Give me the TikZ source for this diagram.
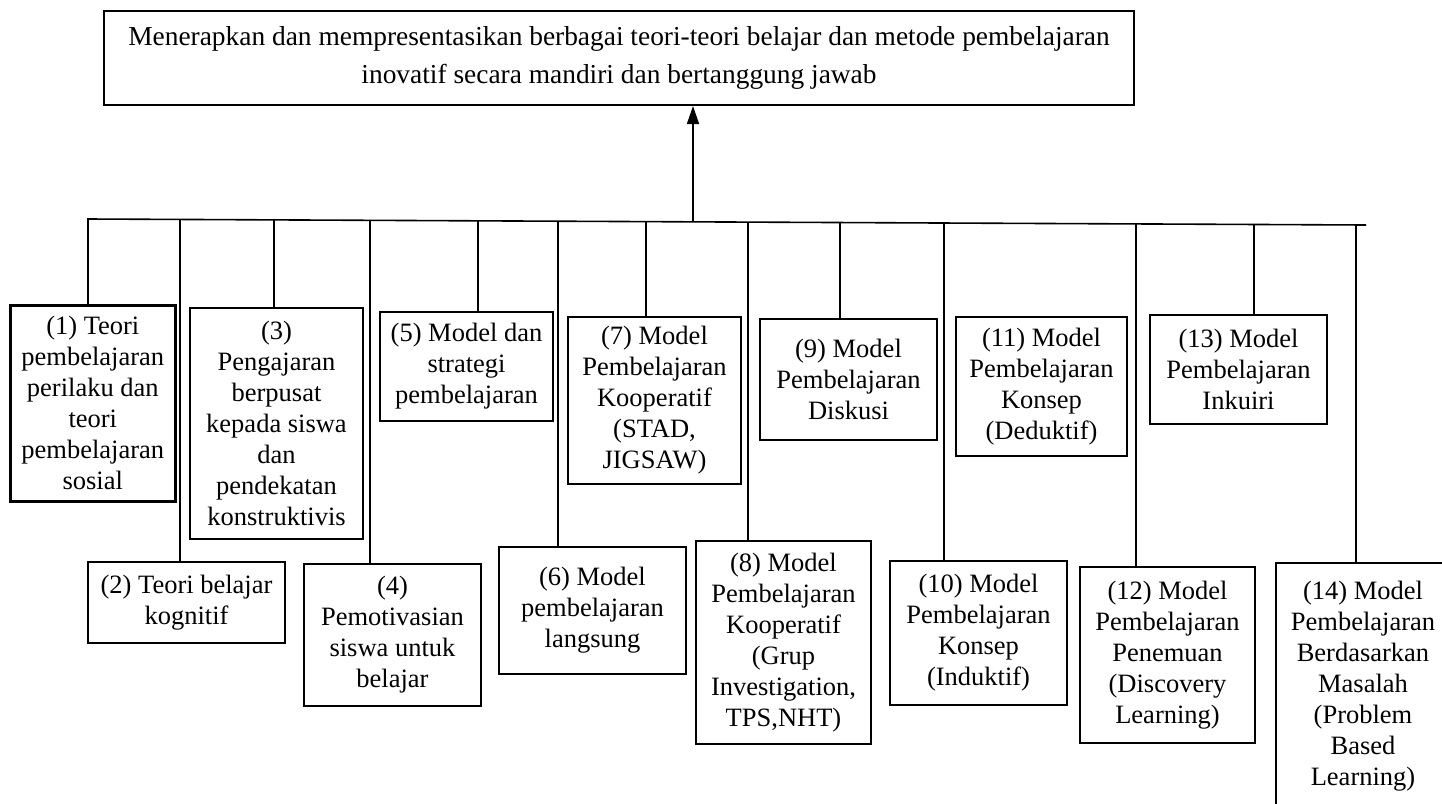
\documentclass[tikz,border=0pt]{standalone}
\usepackage{fontspec}
\setmainfont{Liberation Serif}
\usetikzlibrary{arrows.meta}
\usetikzlibrary{calc}
\tikzset{
 kotak/.style={draw, black, line width=2pt, align=center, inner sep=0pt, anchor=north west, font=\fontsize{26.5}{31}\selectfont},
 garis/.style={black, line width=1.6pt}
}

\begin{document}
\begin{tikzpicture}[x=1pt,y=-1pt]
\useasboundingbox (0,0) rectangle (1442,803);
\clip (0,0) rectangle (1442,803);
% tujuan utama
\node[kotak, minimum width=1030pt, minimum height=94pt, font=\fontsize{27.4}{38}\selectfont] (tujuan) at (103,10)
 {Menerapkan dan mempresentasikan berbagai teori-teori belajar dan metode pembelajaran\\inovatif secara mandiri dan bertanggung jawab};
% materi
\node[kotak, minimum width=165pt, minimum height=196pt, line width=2.6pt] (k1) at (9,304) {(1) Teori\\pembelajaran\\perilaku dan\\teori\\pembelajaran\\sosial};
\node[kotak, minimum width=197pt, minimum height=81pt] (k2) at (87,561) {(2) Teori belajar\\kognitif};
\node[kotak, minimum width=173pt, minimum height=231pt] (k3) at (189,307) {(3)\\Pengajaran\\berpusat\\kepada siswa\\dan\\pendekatan\\konstruktivis};
\node[kotak, minimum width=177pt, minimum height=142pt] (k4) at (303,563) {(4)\\Pemotivasian\\siswa untuk\\belajar};
\node[kotak, minimum width=173pt, minimum height=109pt] (k5) at (379,311) {(5) Model dan\\strategi\\pembelajaran};
\node[kotak, minimum width=187pt, minimum height=127pt] (k6) at (498,546) {(6) Model\\pembelajaran\\langsung};
\node[kotak, minimum width=173pt, minimum height=167pt] (k7) at (567,316) {(7) Model\\Pembelajaran\\Kooperatif\\(STAD,\\JIGSAW)};
\node[kotak, minimum width=175pt, minimum height=203pt] (k8) at (695,540) {(8) Model\\Pembelajaran\\Kooperatif\\(Grup\\Investigation,\\TPS,NHT)};
\node[kotak, minimum width=177pt, minimum height=121pt] (k9) at (759,318) {(9) Model\\Pembelajaran\\Diskusi};
\node[kotak, minimum width=177pt, minimum height=144pt] (k10) at (889,560) {(10) Model\\Pembelajaran\\Konsep\\(Induktif)};
\node[kotak, minimum width=171pt, minimum height=139pt] (k11) at (955,316) {(11) Model\\Pembelajaran\\Konsep\\(Deduktif)};
\node[kotak, minimum width=175pt, minimum height=176pt] (k12) at (1079,566) {(12) Model\\Pembelajaran\\Penemuan\\(Discovery\\Learning)};
\node[kotak, minimum width=177pt, minimum height=109pt] (k13) at (1149,314) {(13) Model\\Pembelajaran\\Inkuiri};
\node[kotak, minimum width=174pt, minimum height=246pt] (k14) at (1275,562) {(14) Model\\Pembelajaran\\Berdasarkan\\Masalah\\(Problem\\Based\\Learning)};
% garis cabang
\coordinate (busL) at (87,219);
\coordinate (busR) at (1366,225);
\draw[garis] (busL) -- (busR);
\foreach \n/\x in {1/88,2/180,3/274,4/370,5/478,6/558,7/646,8/748,9/840,10/944,12/1136,13/1254,14/1356} {
 \draw[garis] ($(busL)!{(\x-87)/1279}!(busR)$) -- (\x,0 |- k\n.north);
}
\coordinate (pangkal) at ($(busL)!{(693-87)/1279}!(busR)$);
\draw[garis, -{Triangle[length=18pt,width=12pt]}] (pangkal) -- (pangkal |- tujuan.south);
\end{tikzpicture}
\end{document}
